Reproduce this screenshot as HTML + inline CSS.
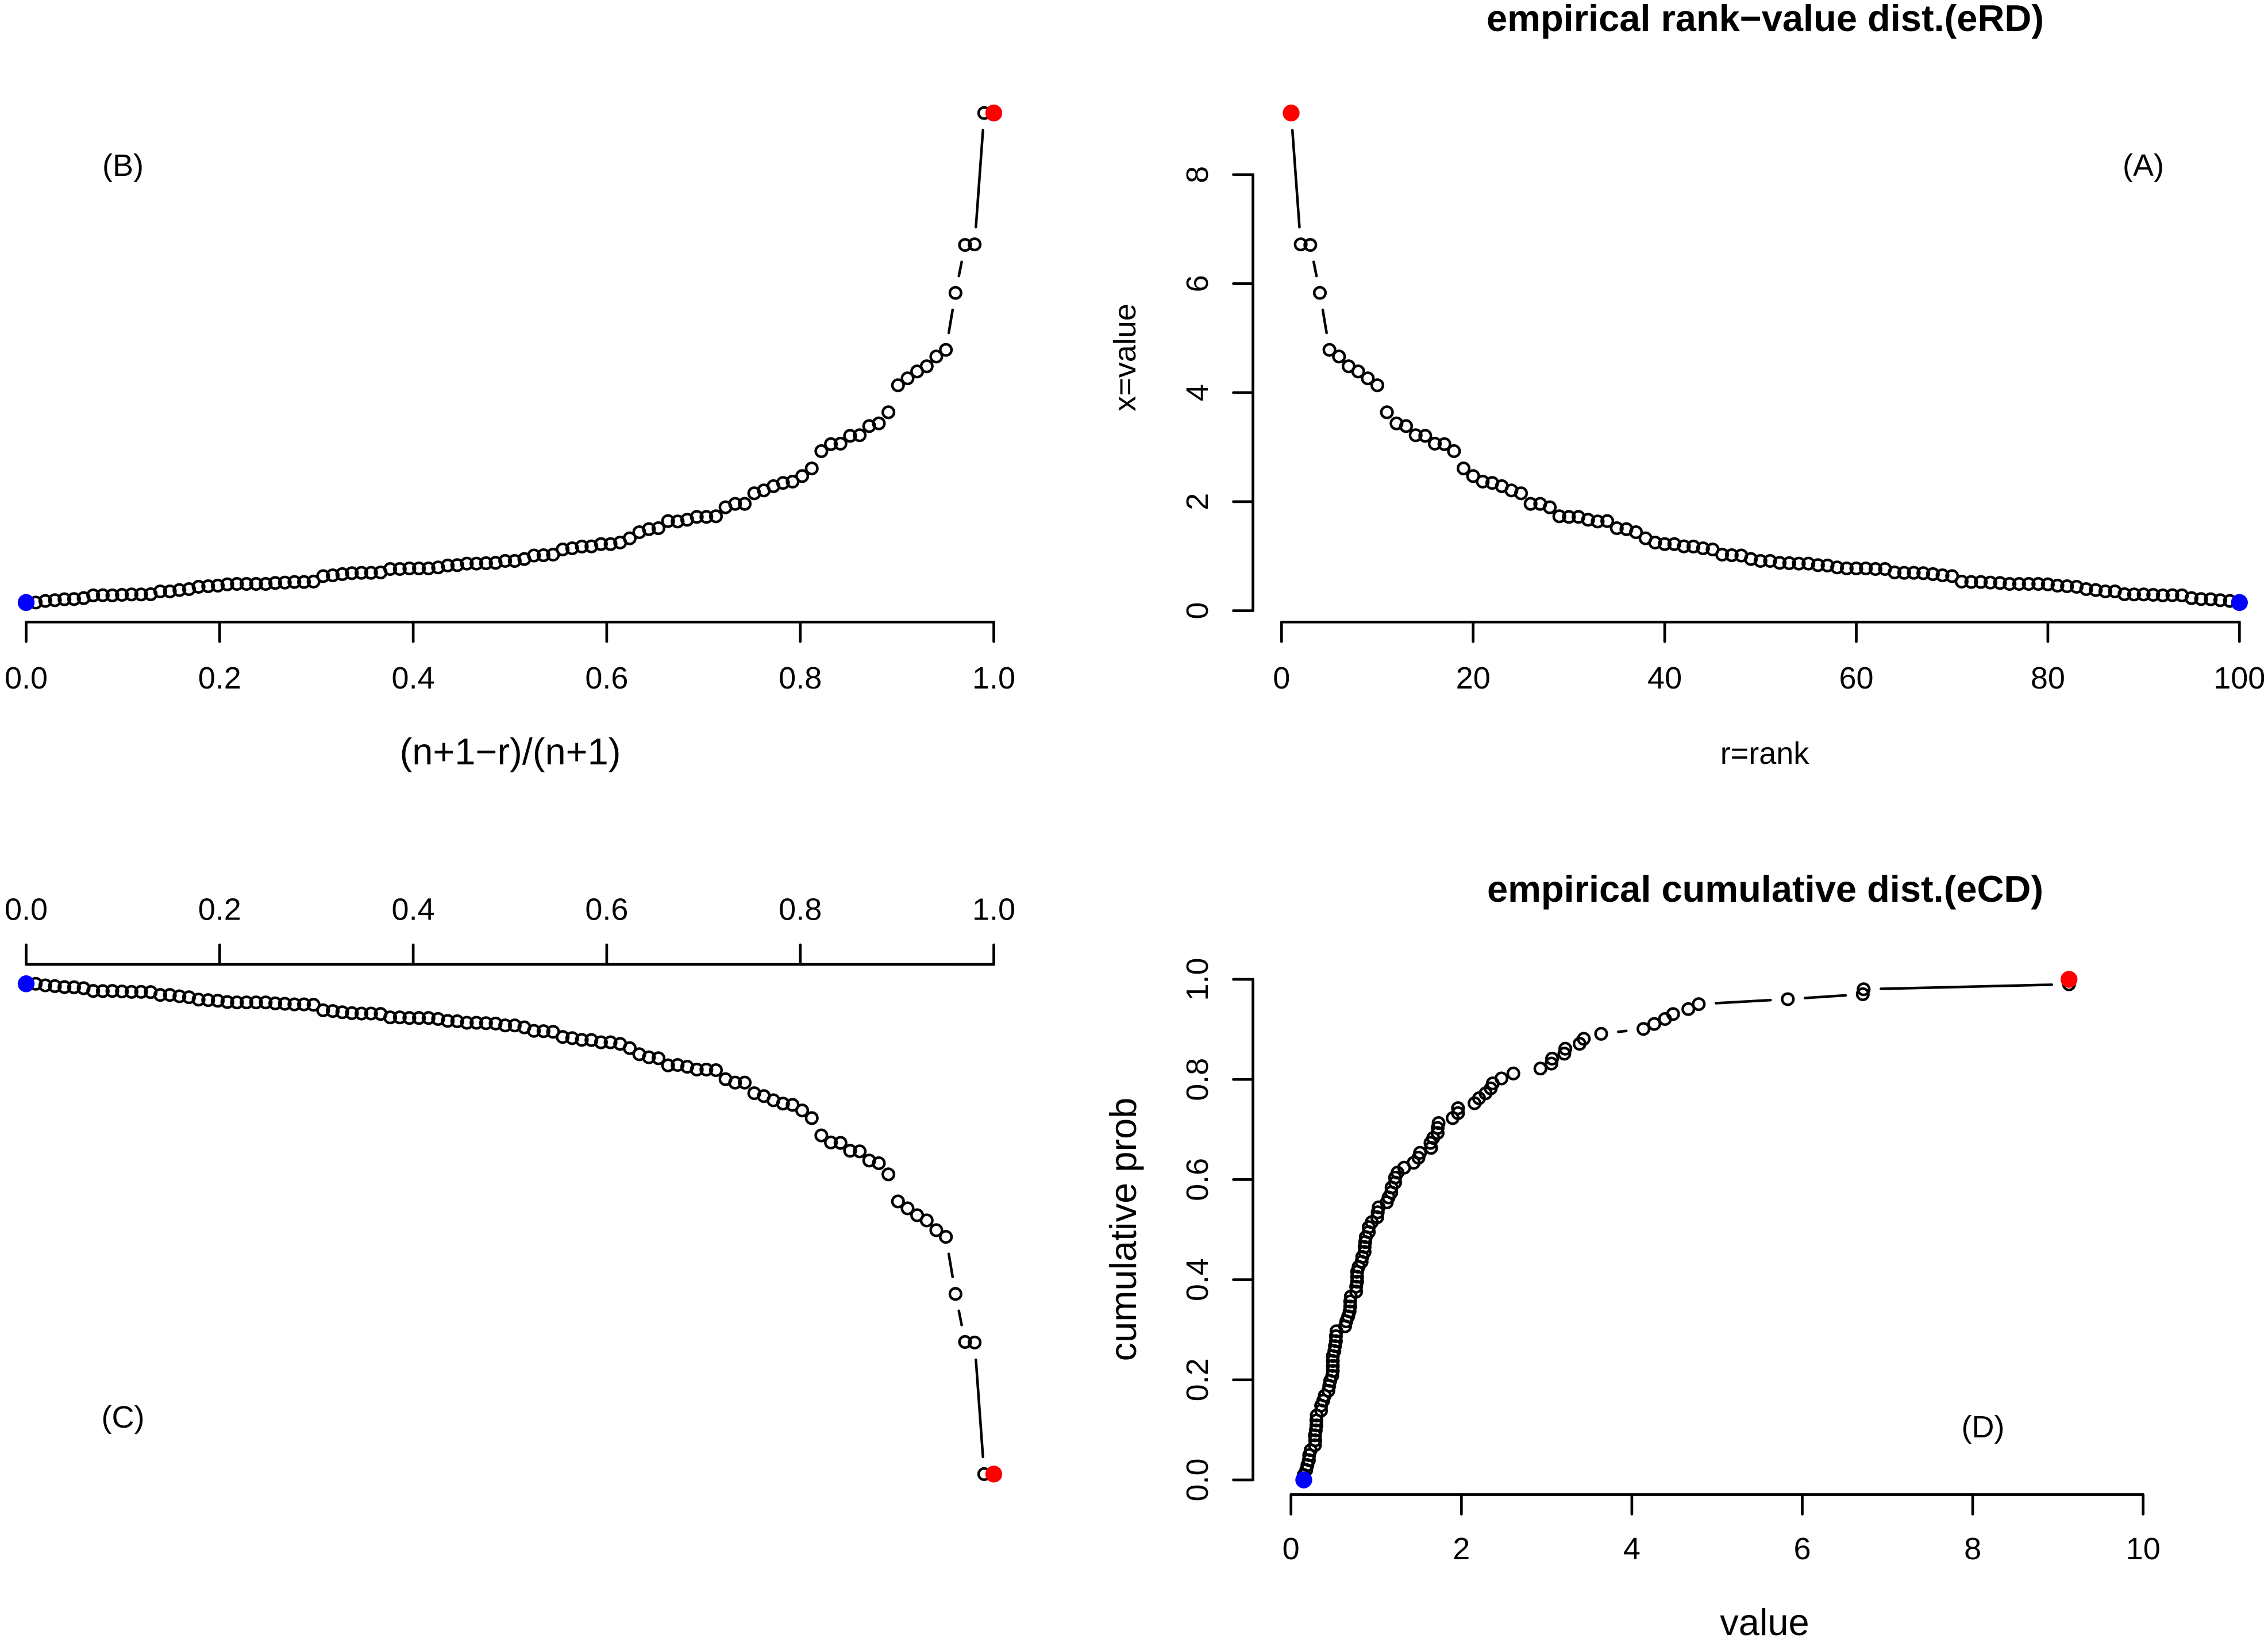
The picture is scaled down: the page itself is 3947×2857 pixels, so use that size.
<!DOCTYPE html>
<html lang="en">
<head>
<meta charset="utf-8">
<title>Empirical rank-value and cumulative distributions</title>
<style>
html,body{margin:0;padding:0;background:#fff;}
svg{display:block;}
text{font-family:"Liberation Sans",sans-serif;fill:#000;}
.lab{font-size:54px;}
.big{font-size:65px;}
.title{font-size:65px;font-weight:bold;}
</style>
</head>
<body>
<svg id="figure" xmlns="http://www.w3.org/2000/svg" width="3947" height="2857" viewBox="0 0 3947 2857">
  <rect x="0" y="0" width="3947" height="2857" fill="#fff"/>
  <g id="panel-b">
    <text class="lab" x="214" y="306" text-anchor="middle">(B)</text>
    <text class="big" x="888" y="1330" text-anchor="middle">(n+1−r)/(n+1)</text>
  </g>
  <g id="panel-a">
    <text class="title" x="3072" y="54" text-anchor="middle">empirical rank−value dist.(eRD)</text>
    <text class="lab" x="3730" y="306" text-anchor="middle">(A)</text>
    <text class="lab" x="3071" y="1329" text-anchor="middle">r=rank</text>
    <text class="lab" transform="translate(1976 622) rotate(-90)" text-anchor="middle">x=value</text>
  </g>
  <g id="panel-c">
    <text class="lab" x="214" y="2484" text-anchor="middle">(C)</text>
  </g>
  <g id="panel-d">
    <text class="title" x="3072" y="1569" text-anchor="middle">empirical cumulative dist.(eCD)</text>
    <text class="lab" x="3451" y="2501" text-anchor="middle">(D)</text>
    <text class="big" x="3071" y="2845" text-anchor="middle">value</text>
    <text class="big" transform="translate(1977 2139) rotate(-90)" text-anchor="middle">cumulative prob</text>
  </g>
</svg>
<script>
// Data: value at each rank, 1..100
const values = [
  9.13,6.72,6.71,5.83,4.785,4.663,4.484,4.389,4.263,4.136,
  3.64,3.436,3.387,3.219,3.208,3.064,3.056,2.927,2.61,2.47,
  2.368,2.344,2.284,2.207,2.154,1.96,1.96,1.897,1.732,1.721,
  1.721,1.669,1.637,1.644,1.514,1.496,1.44,1.328,1.25,1.222,
  1.222,1.18,1.177,1.145,1.124,1.029,1.018,1.012,.948,.913,
  .913,.878,.871,.864,.864,.836,.829,.794,.776,.776,
  .776,.765,.765,.702,.695,.695,.688,.671,.649,.635,
  .534,.527,.527,.516,.509,.491,.491,.491,.491,.484,
  .46,.449,.439,.396,.379,.354,.354,.302,.298,.298,
  .291,.281,.284,.281,.231,.214,.21,.193,.179,.15
];
const rankTicks = [0,20,40,60,80,100];
const rankTickLabels = ['0','20','40','60','80','100'];
const fractionTicks = [0,0.2,0.4,0.6,0.8,1];
const fractionTickLabels = ['0.0','0.2','0.4','0.6','0.8','1.0'];
const valueTicks = [0,2,4,6,8];
const valueTickLabels = ['0','2','4','6','8'];
const valueAxisTicks = [0,2,4,6,8,10];
const valueAxisTickLabels = ['0','2','4','6','8','10'];
const probTicks = [0,0.2,0.4,0.6,0.8,1];
const probTickLabels = ['0.0','0.2','0.4','0.6','0.8','1.0'];

// Axis functions
const xRank = r => 2230.3 + 16.67 * r;
const yValue = v => 1062.6 - 94.85 * v;
const xFraction = u => 45.5 + 1684 * u;
const yValueInverted = v => 1697.5 + 95 * v;
const xValue = v => 2246.7 + 148.3 * v;
const yProb = p => 2575 - 871 * p;

const NS = 'http://www.w3.org/2000/svg';
const GAP = 30;

function lineEl(parent, x1, y1, x2, y2, w, name) {
  const el = document.createElementNS(NS, 'line');
  
  
  el.setAttribute('x1', x1);
  el.setAttribute('y1', y1);
  el.setAttribute('x2', x2);
  el.setAttribute('y2', y2);
  el.setAttribute('stroke', '#000');
  el.setAttribute('stroke-width', w);
  el.setAttribute('stroke-linecap', 'round');
  parent.appendChild(el);
}

function textEl(parent, x, y, str, rotate, name) {
  const el = document.createElementNS(NS, 'text');
  
  
  el.setAttribute('class', 'lab');
  el.setAttribute('text-anchor', 'middle');
  if (rotate) {
    el.setAttribute('transform', 'translate(' + x + ' ' + y + ') rotate(-90)');
  } else {
    el.setAttribute('x', x);
    el.setAttribute('y', y);
  }
  el.textContent = str;
  parent.appendChild(el);
}

function circleEl(parent, cx, cy, r, fill, name) {
  const el = document.createElementNS(NS, 'circle');
  
  
  el.setAttribute('cx', cx);
  el.setAttribute('cy', cy);
  el.setAttribute('r', r);
  if (fill) {
    el.setAttribute('fill', fill);
  } else {
    el.setAttribute('fill', 'none');
    el.setAttribute('stroke', '#000');
    el.setAttribute('stroke-width', 4.5);
  }
  parent.appendChild(el);
}

function horizAxis(parent, y, dir, labelY, ticks, labels, scale, name) {
  lineEl(parent, scale(ticks[0]), y, scale(ticks[ticks.length - 1]), y, 4.7, name + '-line');
  ticks.forEach((t, i) => {
    lineEl(parent, scale(t), y, scale(t), y + dir * 34, 4.7, name + '-tick');
    textEl(parent, scale(t), labelY, labels[i], false, name + '-tick-label');
  });
}

function vertAxis(parent, x, labelX, ticks, labels, scale, name) {
  lineEl(parent, x, scale(ticks[0]), x, scale(ticks[ticks.length - 1]), 4.7, name + '-line');
  ticks.forEach((t, i) => {
    lineEl(parent, x, scale(t), x - 34, scale(t), 4.7, name + '-tick');
    textEl(parent, labelX, scale(t), labels[i], true, name + '-tick-label');
  });
}

// R type="b": segments with a gap around each point
function series(parent, pts, redPt, bluePt, name) {
  pts.forEach(p => circleEl(parent, p[0], p[1], 9.8, null, name + '-point'));
  for (let i = 0; i < pts.length - 1; i++) {
    const dx = pts[i + 1][0] - pts[i][0];
    const dy = pts[i + 1][1] - pts[i][1];
    const d = Math.hypot(dx, dy);
    if (d > 2 * GAP) {
      const ux = dx / d * GAP;
      const uy = dy / d * GAP;
      lineEl(parent, pts[i][0] + ux, pts[i][1] + uy, pts[i + 1][0] - ux, pts[i + 1][1] - uy, 4.5, name + '-segment');
    }
  }
  circleEl(parent, redPt[0], redPt[1], 14.7, '#ff0000', name + '-max-point');
  circleEl(parent, bluePt[0], bluePt[1], 14.7, '#0000ff', name + '-min-point');
}

const n = values.length;
const fraction = values.map((v, i) => (n - i) / (n + 1));
const vMax = values[0];
const vMin = values[n - 1];

// Panel A
const gA = document.getElementById('panel-a');
horizAxis(gA, 1082.3, 1, 1198, rankTicks, rankTickLabels, xRank, 'panel-a-x-axis');
vertAxis(gA, 2180.5, 2102, valueTicks, valueTickLabels, yValue, 'panel-a-y-axis');
series(gA, values.map((v, i) => [xRank(i + 1), yValue(v)]),
  [xRank(1), yValue(vMax)], [xRank(n), yValue(vMin)], 'panel-a');

// Panel B
const gB = document.getElementById('panel-b');
horizAxis(gB, 1082.3, 1, 1198, fractionTicks, fractionTickLabels, xFraction, 'panel-b-x-axis');
series(gB, values.map((v, i) => [xFraction(fraction[i]), yValue(v)]),
  [xFraction(1), yValue(vMax)], [xFraction(0), yValue(vMin)], 'panel-b');

// Panel C
const gC = document.getElementById('panel-c');
horizAxis(gC, 1678, -1, 1600.5, fractionTicks, fractionTickLabels, xFraction, 'panel-c-x-axis');
series(gC, values.map((v, i) => [xFraction(fraction[i]), yValueInverted(v)]),
  [xFraction(1), yValueInverted(vMax)], [xFraction(0), yValueInverted(vMin)], 'panel-c');

// Panel D
const gD = document.getElementById('panel-d');
horizAxis(gD, 2600.5, 1, 2713, valueAxisTicks, valueAxisTickLabels, xValue, 'panel-d-x-axis');
vertAxis(gD, 2180.5, 2102, probTicks, probTickLabels, yProb, 'panel-d-y-axis');
series(gD, values.map((v, i) => [xValue(v), yProb(fraction[i])]),
  [xValue(vMax), yProb(1)], [xValue(vMin), yProb(0)], 'panel-d');
</script>
</body>
</html>
